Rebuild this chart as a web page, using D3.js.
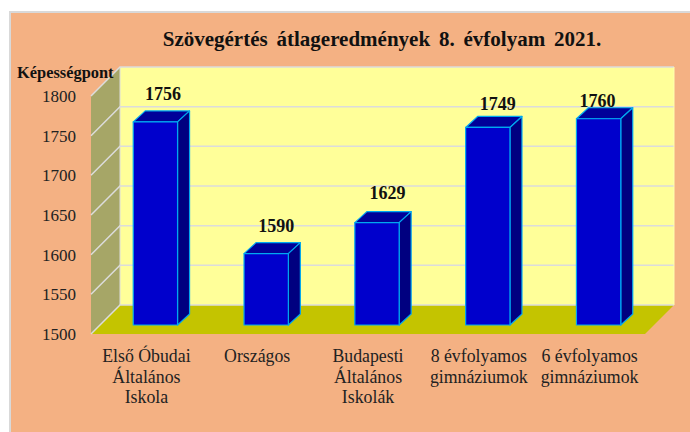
<!DOCTYPE html>
<html>
<head>
<meta charset="utf-8">
<script src="https://cdn.jsdelivr.net/npm/d3@7"></script>
<style>
    html, body {margin: 0; padding: 0; background: #fff;}
    svg {display: block;}
    text {font-family: "Liberation Serif", serif;}
    .axis path, .axis line {display: none;}
</style>
</head>
<body>
<svg id="chart" width="690" height="432"></svg>
<script>
const categories = [
    ["Első Óbudai", "Általános", "Iskola"],
    ["Országos"],
    ["Budapesti", "Általános", "Iskolák"],
    ["8 évfolyamos", "gimnáziumok"],
    ["6 évfolyamos", "gimnáziumok"]
];
const scores = [1756, 1590, 1629, 1749, 1760];
const yTicks = [1500, 1550, 1600, 1650, 1700, 1750, 1800];

const titleText = "Szövegértés átlageredmények 8. évfolyam 2021.";
const yTitle = "Képességpont";

const colors = {
    panel: "#f4b183", frame: "#d9d9d9", back: "#ffff99", side: "#a6a667", floor: "#c4c400",
    grid: "#dcdcdc", front: "#0000cc", top: "#000099", dark: "#000080", edge: "#00a8f0"
};

let svg = d3.select("#chart");

// the 3d box: front plane of the floor, the back wall sits depth px up and right
let plot = {left: 91, right: 645, top: 96, bottom: 334, depth: 29};
let barShift = 9;   // how far the bars stand behind the front plane
let barDepth = {x: 12, y: 11};

let x = d3.scaleBand()
    .domain(d3.range(categories.length))
    .range([plot.left, plot.right])
    .paddingInner(0.6)
    .paddingOuter(0.3);
let y = d3.scaleLinear()
    .domain([1500, 1800])
    .range([plot.bottom, plot.top]);

let points = pts => pts.map(p => p.join(",")).join(" ");
let d = plot.depth;

// panel
svg.append("rect")
    .attr("x", 10).attr("y", 12)
    .attr("width", 685).attr("height", 425)
    .attr("fill", colors.panel)
    .attr("stroke", colors.frame)
    .attr("stroke-width", 2);

// walls and floor
svg.append("rect")
    .attr("x", plot.left + d).attr("y", plot.top - d)
    .attr("width", plot.right - plot.left).attr("height", plot.bottom - plot.top)
    .attr("fill", colors.back);
svg.append("polygon")
    .attr("points", points([
        [plot.left, plot.bottom], [plot.left + d, plot.bottom - d],
        [plot.left + d, plot.top - d], [plot.left, plot.top]]))
    .attr("fill", colors.side);
svg.append("polygon")
    .attr("points", points([
        [plot.left, plot.bottom], [plot.right, plot.bottom],
        [plot.right + d, plot.bottom - d], [plot.left + d, plot.bottom - d]]))
    .attr("fill", colors.floor);

// gridlines run along the side wall then across the back wall
svg.append("g").selectAll("polyline")
    .data(yTicks)
    .enter().append("polyline")
    .attr("points", t => points([
        [plot.left, y(t)], [plot.left + d, y(t) - d], [plot.right + d, y(t) - d]]))
    .attr("fill", "none")
    .attr("stroke", colors.grid)
    .attr("stroke-width", 1.5);
svg.append("line")
    .attr("x1", plot.left + d).attr("x2", plot.left + d)
    .attr("y1", plot.top - d).attr("y2", plot.bottom - d)
    .attr("stroke", colors.grid);
svg.append("line")
    .attr("x1", plot.right + d).attr("x2", plot.right + d)
    .attr("y1", plot.top - d).attr("y2", plot.bottom - d)
    .attr("stroke", "#ffffb0");

// bars
let bars = svg.append("g").selectAll("g")
    .data(scores)
    .enter().append("g")
    .attr("stroke", colors.edge)
    .attr("stroke-width", 1.2)
    .attr("stroke-linejoin", "round");

let barX = i => x(i) + barShift;
let barY = v => y(v) - barShift;
let bw = x.bandwidth();

bars.append("polygon")
    .attr("fill", colors.top)
    .attr("points", (v, i) => points([
        [barX(i), barY(v)], [barX(i) + barDepth.x, barY(v) - barDepth.y],
        [barX(i) + bw + barDepth.x, barY(v) - barDepth.y], [barX(i) + bw, barY(v)]]));
bars.append("polygon")
    .attr("fill", colors.dark)
    .attr("points", (v, i) => points([
        [barX(i) + bw, barY(v)], [barX(i) + bw + barDepth.x, barY(v) - barDepth.y],
        [barX(i) + bw + barDepth.x, barY(1500) - barDepth.y], [barX(i) + bw, barY(1500)]]));
bars.append("rect")
    .attr("fill", colors.front)
    .attr("x", (v, i) => barX(i))
    .attr("y", v => barY(v))
    .attr("width", bw)
    .attr("height", v => barY(1500) - barY(v));

// value labels, the last two were dragged by hand in the original
let labelNudge = [[7.5, -22], [10, -22], [10.5, -24], [10, -17], [-1, -12]];
svg.append("g").selectAll("text")
    .data(scores)
    .enter().append("text")
    .attr("x", (v, i) => barX(i) + bw / 2 + labelNudge[i][0])
    .attr("y", (v, i) => barY(v) + labelNudge[i][1])
    .attr("text-anchor", "middle")
    .attr("font-size", 18)
    .attr("font-weight", "bold")
    .attr("fill", "#111")
    .text(v => v);

// axes
svg.append("g")
    .attr("class", "axis")
    .attr("transform", "translate(" + plot.left + ",0)")
    .call(d3.axisLeft(y).tickValues(yTicks).tickSize(0).tickPadding(15).tickFormat(d3.format("d")))
    .selectAll("text")
    .attr("font-size", 17)
    .attr("fill", "#222");

let xAxis = d3.scaleBand().domain(d3.range(categories.length)).range([plot.left, plot.right]);
let catLabels = svg.append("g").selectAll("text")
    .data(categories)
    .enter().append("text")
    .attr("x", (c, i) => xAxis(i) + xAxis.bandwidth() / 2)
    .attr("y", 362)
    .attr("text-anchor", "middle")
    .attr("font-size", 17.8)
    .attr("fill", "#222");
catLabels.selectAll("tspan")
    .data(c => c)
    .enter().append("tspan")
    .attr("x", function () { return this.parentNode.getAttribute("x"); })
    .attr("dy", (l, i) => i ? 20.7 : 0)
    .text(l => l);

// titles
svg.append("text")
    .attr("x", 382).attr("y", 46)
    .attr("text-anchor", "middle")
    .attr("font-size", 21)
    .attr("font-weight", "bold")
    .attr("word-spacing", 3.6)
    .attr("fill", "#111")
    .text(titleText);
svg.append("text")
    .attr("x", 17).attr("y", 78)
    .attr("font-size", 16.4)
    .attr("font-weight", "bold")
    .attr("fill", "#111")
    .text(yTitle);
</script>
</body>
</html>
